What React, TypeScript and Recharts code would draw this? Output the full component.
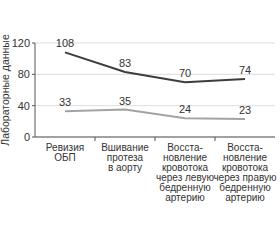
import { LineChart, Line, XAxis, YAxis, CartesianGrid, LabelList } from 'recharts';

const categories = [
  ['Ревизия', 'ОБП'],
  ['Вшивание', 'протеза', 'в аорту'],
  ['Восста-', 'новление', 'кровотока', 'через левую', 'бедренную', 'артерию'],
  ['Восста-', 'новление', 'кровотока', 'через правую', 'бедренную', 'артерию'],
];
const upperValues = [108, 83, 70, 74];
const lowerValues = [33, 35, 24, 23];
const yTicks = [0, 20, 40, 60, 80, 100, 120];

const data = categories.map((lines, i) => ({
  name: String(i),
  upper: upperValues[i],
  lower: lowerValues[i],
}));

const FONT = '"Liberation Sans", Arial, sans-serif';

const CategoryTick = (props: any) => {
  const { x, y, payload, index } = props;
  const lines = categories[Number(payload.value)];
  const half = 30;
  return (
    <g>
      {index < categories.length - 1 && (
        <line x1={x + half} y1={y - 8} x2={x + half} y2={y - 4} stroke="#555" />
      )}
      <text x={x} y={y + 6} textAnchor="middle" fontSize={10} fill="#333" fontFamily={FONT}>
        {lines.map((l, i) => (
          <tspan key={i} x={x} dy={i === 0 ? 0 : 10}>
            {l}
          </tspan>
        ))}
      </text>
    </g>
  );
};

export default function App() {
  return (
    <div style={{ position: 'absolute', left: 0, top: 0, width: 280, height: 240, background: '#fff' }}>
      <LineChart
        width={280}
        height={240}
        data={data}
        margin={{ top: 43, right: 5, left: 0, bottom: 0 }}
      >
        <CartesianGrid vertical={false} stroke="#ddd" />
        <XAxis
          dataKey="name"
          height={103}
          padding={{ left: 30, right: 30 }}
          tick={<CategoryTick />}
          tickLine={false}
          axisLine={{ stroke: '#555' }}
          interval={0}
        />
        <YAxis
          width={35}
          domain={[0, 120]}
          ticks={yTicks}
          tickSize={3}
          tickLine={{ stroke: '#555' }}
          axisLine={{ stroke: '#555' }}
          tick={{ fontSize: 11, fill: '#333', fontFamily: FONT }}
          label={{
            value: 'Лабораторные данные',
            angle: -90,
            position: 'insideLeft',
            dx: 0,
            dy: 0,
            style: { fontSize: 10.5, fill: '#333', fontFamily: FONT, textAnchor: 'middle' },
          }}
        />
        <Line
          dataKey="upper"
          stroke="#3d3d3d"
          strokeWidth={2}
          dot={false}
          isAnimationActive={false}
        >
          <LabelList dataKey="upper" position="top" offset={5} fontSize={11} fill="#333" fontFamily={FONT} />
        </Line>
        <Line
          dataKey="lower"
          stroke="#a3a3a3"
          strokeWidth={2}
          dot={false}
          isAnimationActive={false}
        >
          <LabelList dataKey="lower" position="top" offset={5} fontSize={11} fill="#333" fontFamily={FONT} />
        </Line>
      </LineChart>
    </div>
  );
}
